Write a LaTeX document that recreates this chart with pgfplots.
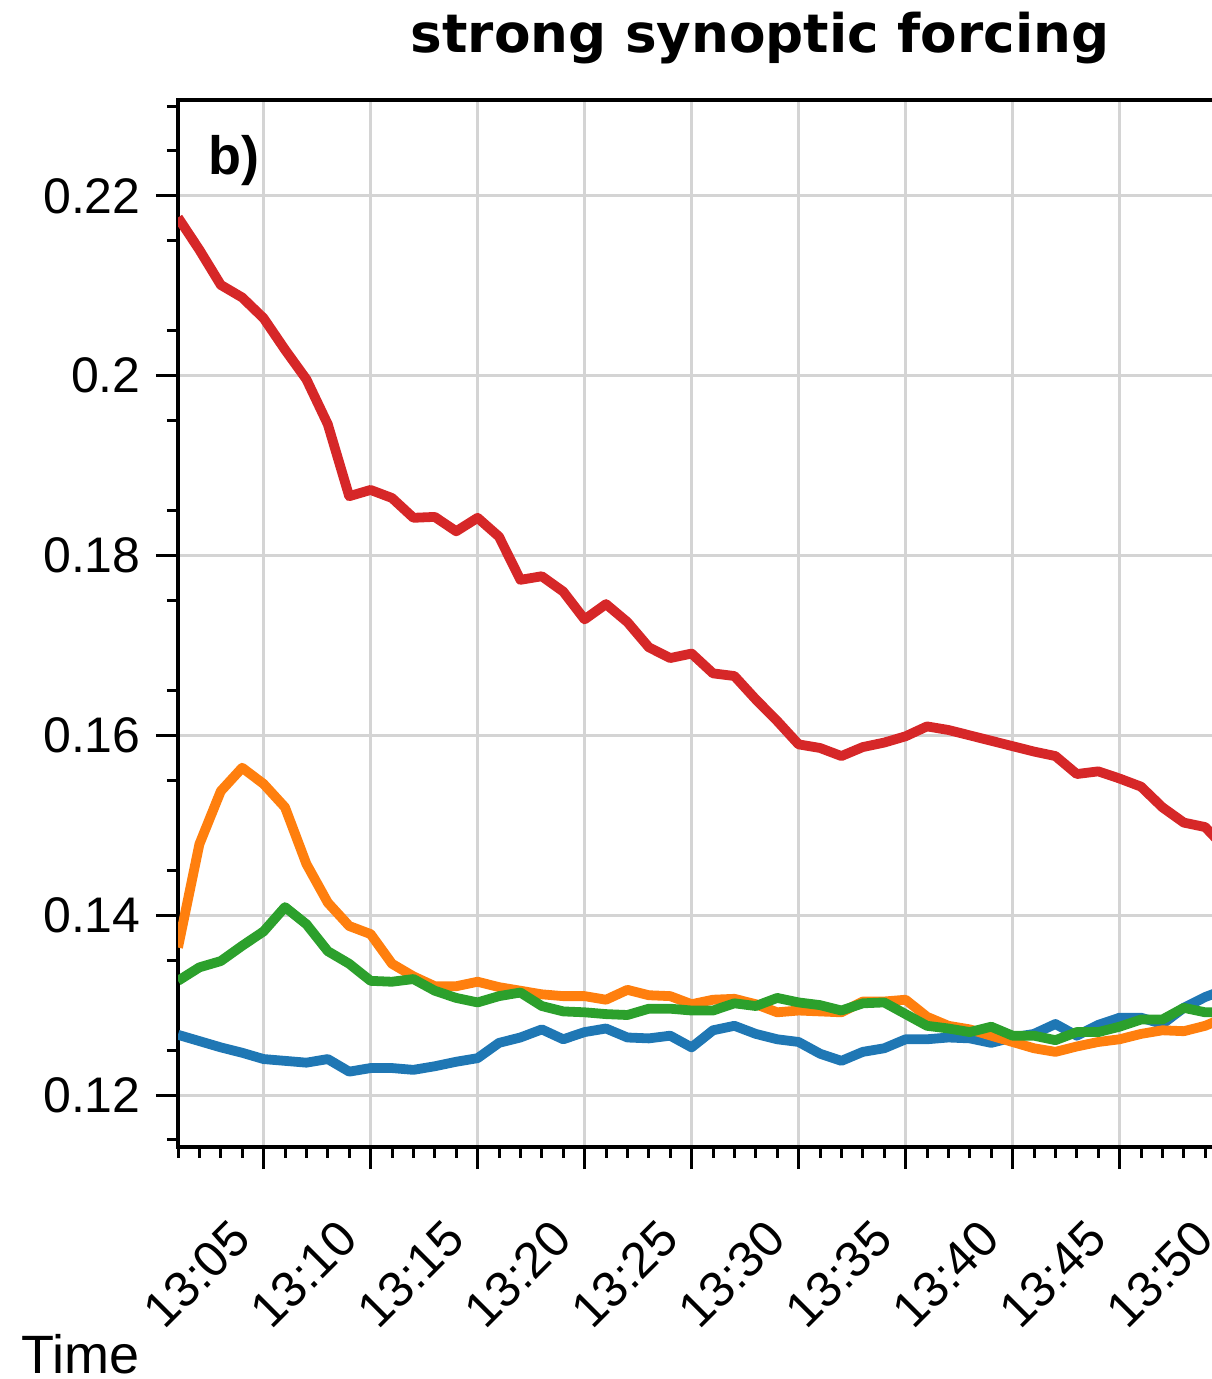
\documentclass[border=0pt]{standalone}
\usepackage{pgfplots}
\pgfplotsset{compat=1.18}
\usepackage{pgfplotstable}
\usepackage{fontspec}
\setmainfont{Liberation Sans}
\newfontfamily\titlefont{DejaVu Sans}
\definecolor{cred}{HTML}{D62728}
\definecolor{corange}{HTML}{FF7F0E}
\definecolor{cgreen}{HTML}{2CA02C}
\definecolor{cblue}{HTML}{1F77B4}
\definecolor{cgrid}{HTML}{D4D4D4}
\pgfplotstableread{
t red orange green blue
1 0.2176 0.1364 0.1327 0.1267
2 0.2140 0.1479 0.1342 0.1260
3 0.2101 0.1538 0.1349 0.1253
4 0.2087 0.1564 0.1366 0.1247
5 0.2064 0.1546 0.1382 0.1240
6 0.2029 0.1520 0.1409 0.1238
7 0.1996 0.1457 0.1390 0.1236
8 0.1946 0.1414 0.1360 0.1240
9 0.1866 0.1388 0.1346 0.1226
10 0.1873 0.1379 0.1327 0.1230
11 0.1864 0.1346 0.1326 0.1230
12 0.1842 0.1332 0.1329 0.1228
13 0.1843 0.1321 0.1316 0.1232
14 0.1827 0.1321 0.1308 0.1237
15 0.1842 0.1326 0.1303 0.1241
16 0.1821 0.1320 0.1310 0.1258
17 0.1773 0.1316 0.1314 0.1264
18 0.1777 0.1312 0.1299 0.1273
19 0.1760 0.1310 0.1293 0.1262
20 0.1729 0.1310 0.1292 0.1270
21 0.1746 0.1306 0.1290 0.1274
22 0.1726 0.1317 0.1289 0.1264
23 0.1698 0.1311 0.1296 0.1263
24 0.1686 0.1310 0.1296 0.1266
25 0.1691 0.1301 0.1294 0.1253
26 0.1669 0.1306 0.1294 0.1272
27 0.1666 0.1307 0.1302 0.1277
28 0.1640 0.1301 0.1299 0.1268
29 0.1616 0.1292 0.1308 0.1262
30 0.1590 0.1294 0.1303 0.1259
31 0.1586 0.1293 0.1300 0.1246
32 0.1577 0.1292 0.1294 0.1238
33 0.1587 0.1304 0.1302 0.1248
34 0.1592 0.1304 0.1303 0.1252
35 0.1599 0.1306 0.1290 0.1262
36 0.1610 0.1287 0.1277 0.1262
37 0.1606 0.1277 0.1274 0.1264
38 0.1600 0.1273 0.1270 0.1263
39 0.1594 0.1266 0.1276 0.1258
40 0.1588 0.1259 0.1266 0.1264
41 0.1582 0.1252 0.1266 0.1268
42 0.1577 0.1248 0.1261 0.1279
43 0.1557 0.1254 0.1270 0.1266
44 0.1560 0.1259 0.1270 0.1278
45 0.1552 0.1262 0.1276 0.1286
46 0.1543 0.1268 0.1284 0.1286
47 0.1520 0.1272 0.1284 0.1279
48 0.1503 0.1271 0.1297 0.1297
49 0.1498 0.1277 0.1292 0.1309
50 0.1473 0.1287 0.1292 0.1318
}\datatable
\begin{document}
\begin{tikzpicture}
\begin{axis}[
  name=ax,
  at={(0,0)}, anchor=south west,
  scale only axis,
  width=535pt, height=523.5pt,
  xmin=1, xmax=51,
  ymin=0.11422, ymax=0.23067,
  axis line style={line width=1.6pt, black},
  xtick={5,10,15,20,25,30,35,40,45,50},
  xticklabels={13:05,13:10,13:15,13:20,13:25,13:30,13:35,13:40,13:45,13:50},
  minor xtick={1,2,...,51},
  ytick={0.12,0.14,0.16,0.18,0.2,0.22},
  yticklabels={0.12,0.14,0.16,0.18,0.2,0.22},
  minor ytick={0.115,0.125,0.135,0.145,0.155,0.165,0.175,0.185,0.195,0.205,0.215,0.225,0.23},
  xtick pos=bottom, ytick pos=left,
  tick align=outside,
  major tick length=11pt, minor tick length=5.5pt,
  every tick/.style={black, line width=1.5pt},
  minor tick style={black, line width=1.5pt},
  grid=major,
  major grid style={cgrid, line width=1.5pt},
  ticklabel style={font=\fontsize{25}{30}\selectfont},
  yticklabel style={anchor=east, inner sep=0pt, xshift=-7.5pt},
  xticklabel style={xshift=-17.5pt, yshift=-24pt, rotate=45, anchor=north east, inner sep=0pt},
  clip=true,
]
\addplot[cblue, line width=4.9pt, line join=round] table[x=t, y=blue] {\datatable};
\addplot[corange, line width=4.9pt, line join=round] table[x=t, y=orange] {\datatable};
\addplot[cgreen, line width=4.9pt, line join=round] table[x=t, y=green] {\datatable};
\addplot[cred, line width=4.9pt, line join=round] table[x=t, y=red] {\datatable};
\end{axis}
\node[anchor=north west, inner sep=0pt, font=\fontsize{27}{32}\selectfont\bfseries] at ([xshift=15pt, yshift=-17.5pt]ax.north west) {b)};
\node[anchor=base, inner sep=0pt, font=\titlefont\bfseries\fontsize{26.6}{32}\selectfont] at ([xshift=291pt, yshift=23.5pt]ax.north west) {strong synoptic forcing};
\node[anchor=base east, inner sep=0pt, font=\fontsize{27}{32}\selectfont] at ([xshift=-19pt, yshift=-113pt]ax.south west) {Time};
\pgfresetboundingbox
\path[use as bounding box] (-89pt,-116pt) rectangle (516.5pt,573.5pt);
\end{tikzpicture}
\end{document}
